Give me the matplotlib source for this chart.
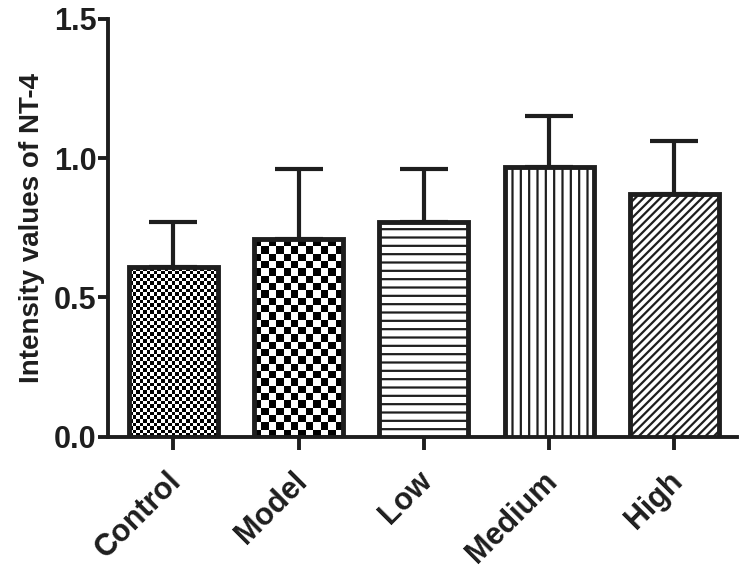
import matplotlib
matplotlib.use("Agg")
import matplotlib.pyplot as plt
import matplotlib.transforms as mtransforms
import numpy as np

# data
groups = ["Control", "Model", "Low", "Medium", "High"]
means = [0.61, 0.71, 0.77, 0.97, 0.87]
sds = [0.16, 0.25, 0.19, 0.18, 0.19]
yticks = [0.0, 0.5, 1.0, 1.5]
ylabel = "Intensity values of NT-4"


def checker(ax, bar, cell_px):
    # fill a bar with a checkerboard image clipped to the bar outline
    x0, w, h = bar.get_x(), bar.get_width(), bar.get_height()
    p0 = ax.transData.transform((x0, 0))
    p1 = ax.transData.transform((x0 + w, h))
    nx = max(1, int(round((p1[0] - p0[0]) / cell_px)))
    ny = max(1, int(round((p1[1] - p0[1]) / cell_px)))
    grid = (np.add.outer(np.arange(ny), np.arange(nx)) % 2).astype(float)
    im = ax.imshow(grid, cmap="gray", extent=(x0, x0 + w, 0, h),
                   interpolation="nearest", aspect="auto", zorder=2)
    im.set_clip_path(bar)


def main() -> None:
    plt.rcParams["font.family"] = ["Liberation Sans", "DejaVu Sans"]
    plt.rcParams["font.weight"] = "bold"
    plt.rcParams["hatch.linewidth"] = 1.6
    plt.rcParams["hatch.color"] = "#1e1e1e"
    dark = "#1e1e1e"

    fig = plt.figure(figsize=(7.46, 5.71), dpi=100)
    ax = fig.add_axes([0.145, 0.235, 0.843, 0.732])
    x = np.arange(len(groups))
    ax.set_xlim(-0.52, 4.5)
    ax.set_ylim(0, 1.5)

    ax.errorbar(x, means, yerr=[np.zeros(len(sds)), sds], fmt="none",
                ecolor=dark, elinewidth=3, capsize=17, capthick=3, zorder=1)

    hatches = [None, None, "--", "||", "////"]
    bars = ax.bar(x, means, width=0.71, color="white", edgecolor=dark,
                  linewidth=3.5, zorder=3)
    for b, h in zip(bars, hatches):
        if h:
            b.set_hatch(h)
    # checker fills go under the outlines
    for b in bars[:2]:
        b.set_facecolor("none")
    checker(ax, bars[0], 3.6)
    checker(ax, bars[1], 7.2)

    ax.spines["top"].set_visible(False)
    ax.spines["right"].set_visible(False)
    for s in ("left", "bottom"):
        ax.spines[s].set_linewidth(2.8)
        ax.spines[s].set_color(dark)
    ax.tick_params(width=2.8, length=7, color=dark, labelsize=22, pad=1.5,
                   labelcolor=dark)
    ax.tick_params(axis="x", length=9, pad=12)
    ax.set_yticks(yticks)
    ax.set_yticklabels([f"{v:.1f}" for v in yticks])
    ax.set_xticks(x)
    ax.set_xticklabels(groups, rotation=45, ha="right", rotation_mode="anchor",
                       fontsize=22)
    shift = mtransforms.ScaledTranslation(-5 / 72, 0, fig.dpi_scale_trans)
    for lab in ax.get_xticklabels():
        lab.set_transform(lab.get_transform() + shift)
    ax.set_ylabel(ylabel, fontsize=20, fontweight="bold", labelpad=6,
                  color=dark)

    fig.savefig("out.png", dpi=100)
    plt.close(fig)


if __name__ == "__main__":
    main()
